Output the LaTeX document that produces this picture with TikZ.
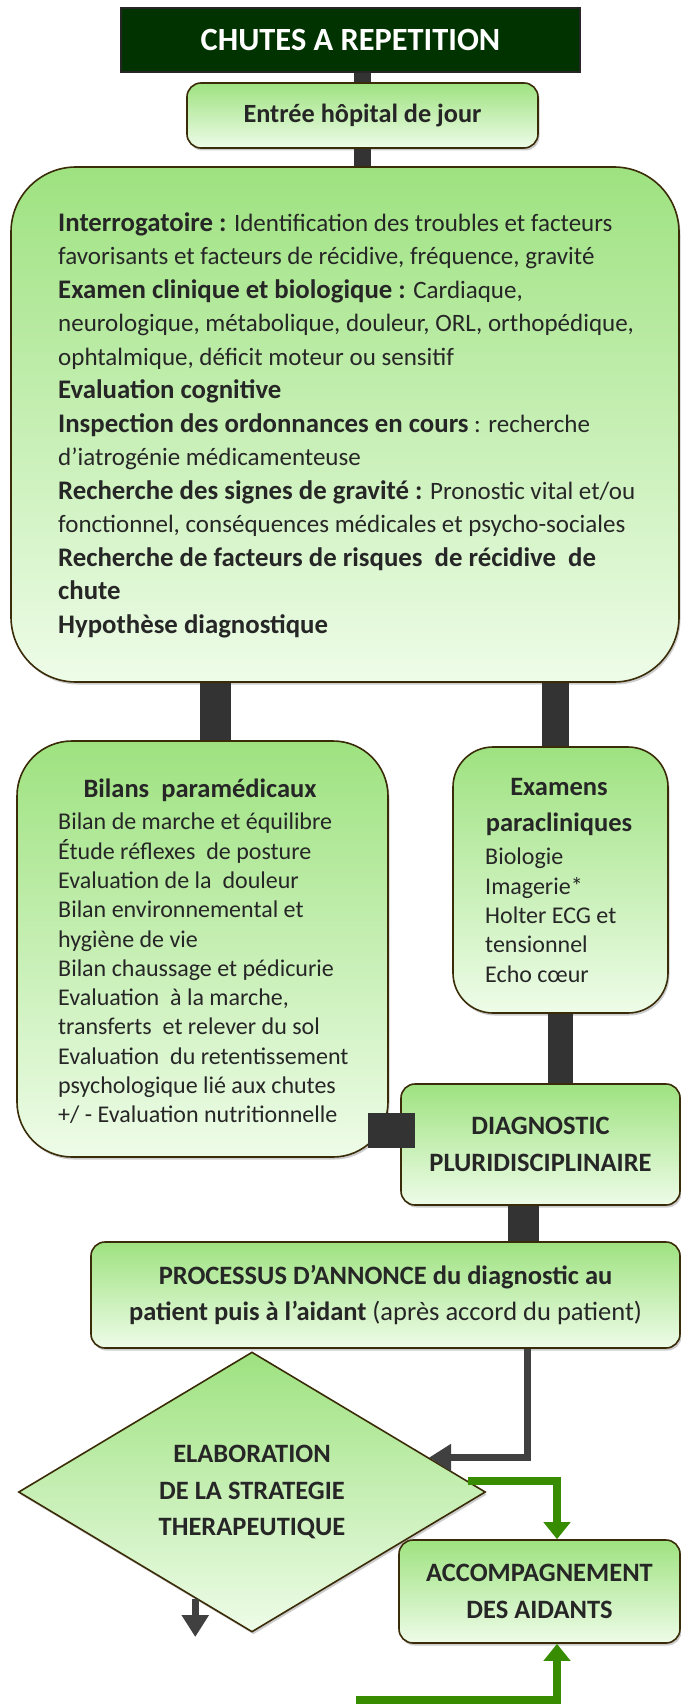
\documentclass[tikz,border=0pt]{standalone}
\usepackage{fontspec}
\setmainfont{Carlito}
\usepackage{tikz}
\usetikzlibrary{shapes.geometric, arrows.meta, shadows}
\definecolor{verdeosc}{RGB}{0,51,0}
\definecolor{verdearr}{RGB}{158,226,128}
\definecolor{verdeaba}{RGB}{238,252,232}
\definecolor{borde}{RGB}{58,44,8}
\definecolor{verdefl}{RGB}{56,140,0}
\definecolor{tinta}{RGB}{38,38,38}
\newcommand{\cuerpo}{\fontsize{25}{33.5}\selectfont}
\newcommand{\cuerpob}{\fontsize{24}{29.3}\selectfont}
\newcommand{\titular}{\fontsize{26.5}{36.5}\selectfont\bfseries}
\newcommand{\negr}[1]{{\fontsize{26.8}{33.5}\selectfont\bfseries #1}}
\tikzset{
	caja/.style={draw=borde, line width=1.6pt, rounded corners=#1, top color=verdearr, bottom color=verdeaba, text=tinta, inner sep=0pt, drop shadow={shadow xshift=1.5pt, shadow yshift=-2.5pt, opacity=0.4}}, % Cajas verdes con degradado
	caja/.default=14pt,
	rombo/.style={diamond, aspect=1.67, draw=borde, line width=1.6pt, top color=verdearr, bottom color=verdeaba, text=tinta, inner sep=0pt, drop shadow={shadow xshift=1.5pt, shadow yshift=-2.5pt, opacity=0.4}}, % Caja de decision
	titulo/.style={draw=black!85, line width=1.6pt, fill=verdeosc, text=white, inner sep=0pt, font=\fontsize{32.4}{37}\selectfont\bfseries}, % Caja del titulo
	texto/.style={inner sep=0pt, text=tinta, align=left}, % Texto dentro de las cajas
	barra/.style={line width=#1, draw=black!80}, % Conectores gruesos
	barra/.default=28pt,
	flecha/.style={line width=7pt, draw=black!75, -{Triangle[length=22pt,width=26pt]}}, % Flecha gris
	flechav/.style={line width=8pt, draw=verdefl, -{Triangle[length=17pt,width=26pt]}} % Flecha verde
}

\begin{document}
\begin{tikzpicture}[x=1pt, y=-1pt]
	\useasboundingbox (0,0) rectangle (680,1704);
	\node[titulo, minimum width=459pt, minimum height=64pt] (ch) at (350.5,40) {CHUTES A REPETITION};
	\node[caja, minimum width=351pt, minimum height=65pt, font=\fontsize{26.3}{32}\selectfont\bfseries] (hj) at (362.5,115.5) {Entrée hôpital de jour};
	\node[caja=65pt, minimum width=668pt, minimum height=515pt] (ev) at (345,424.5) {};
	\node[texto, anchor=north west, font=\cuerpo] (evt) at (58,212) {
		\negr{Interrogatoire :} Identification des troubles et facteurs\\
		favorisants et facteurs de récidive, fréquence, gravité\\
		\negr{Examen clinique et biologique :} Cardiaque,\\
		neurologique, métabolique, douleur, ORL, orthopédique,\\
		ophtalmique, déficit moteur ou sensitif\\
		\negr{Evaluation cognitive}\\
		\negr{Inspection des ordonnances en cours} : recherche\\
		d’iatrogénie médicamenteuse\\
		\negr{Recherche des signes de gravité :} Pronostic vital et/ou\\
		fonctionnel, conséquences médicales et psycho-sociales\\
		\negr{Recherche de facteurs de risques\ \ de récidive\ \ de}\\
		\negr{chute}\\
		\negr{Hypothèse diagnostique}};
	\node[caja=55pt, minimum width=371pt, minimum height=416pt] (bp) at (202.5,949) {};
	\node[inner sep=0pt, text=tinta, font=\titular, anchor=base] (bph) at (200,797) {Bilans\ \ paramédicaux};
	\node[texto, anchor=north west, font=\cuerpob] (bpt) at (58,813) {
		Bilan de marche et équilibre\\
		Étude réflexes\ \ de posture\\
		Evaluation de la\ \ douleur\\
		Bilan environnemental et\\
		hygiène de vie\\
		Bilan chaussage et pédicurie\\
		Evaluation\ \ à la marche,\\
		transferts\ \ et relever du sol\\
		Evaluation\ \ du retentissement\\
		psychologique lié aux chutes\\
		+/ - Evaluation nutritionnelle};
	\node[caja=40pt, minimum width=215pt, minimum height=266pt] (ep) at (560.5,880) {};
	\node[texto, align=center, anchor=north, font=\titular] (eph) at (559,778) {Examens\\paracliniques};
	\node[texto, anchor=north west, font=\cuerpob] (ept) at (485,848) {Biologie\\Imagerie*\\Holter ECG et\\tensionnel\\Echo cœur};
	\node[caja, minimum width=279pt, minimum height=121pt, align=center, font=\titular] (dp) at (540.5,1144.5) {DIAGNOSTIC\\PLURIDISCIPLINAIRE};
	\node[caja, minimum width=589pt, minimum height=106pt, align=center, font=\titular] (pa) at (385.5,1295) {PROCESSUS D’ANNONCE du diagnostic au\\patient puis à l’aidant \mdseries(après accord du patient)};
	\node[rombo, minimum width=467pt, minimum height=280pt, align=center, font=\titular] (st) at (252,1492) {ELABORATION\\DE LA STRATEGIE\\THERAPEUTIQUE};
	\node[caja, minimum width=281pt, minimum height=103pt, align=center, font=\titular] (ac) at (539.5,1591.5) {ACCOMPAGNEMENT\\DES AIDANTS};

	\coordinate (b1) at ([xshift=12.5pt]bp.north);
	\coordinate (b2) at ([xshift=-5pt]ep.north);
	\coordinate (b3) at ([xshift=-21pt, yshift=-181pt]bp.east);
	\coordinate (b5) at ([xshift=15pt, yshift=-181pt]bp.east -| dp.west);
	\coordinate (b4) at ([xshift=-17pt]dp.south);
	\coordinate (p1) at ([xshift=141.5pt]pa.south);
	\coordinate (a1) at ([xshift=17.5pt]ac.north);
	\coordinate (a2) at ([xshift=17.5pt]ac.south);
	\coordinate (g0) at (356,1700);
	\coordinate (d0) at (195,1637);

	\draw[barra=17pt] (hj.north) -- (hj.north |- ch.south);
	\draw[barra=17pt] (hj.south) -- (hj.south |- ev.north);
	\draw[barra=31pt] (b1) -- (b1 |- ev.south);
	\draw[barra=27pt] (b2) -- (b2 |- ev.south);
	\draw[barra=25pt] (ep.south) -- (ep.south |- dp.north);
	\draw[barra=35pt] (b3) -- (b3 -| b5);
	\draw[barra=31pt] (b4) -- (b4 |- pa.north);
	\draw[flecha] (p1) |- (st.11);
	\draw[flechav] (st.3) -| (a1);
	\draw[flechav] (g0) -| (a2);
	\draw[flecha] (st.242) -- (st.242 |- d0);
\end{tikzpicture}
\end{document}
